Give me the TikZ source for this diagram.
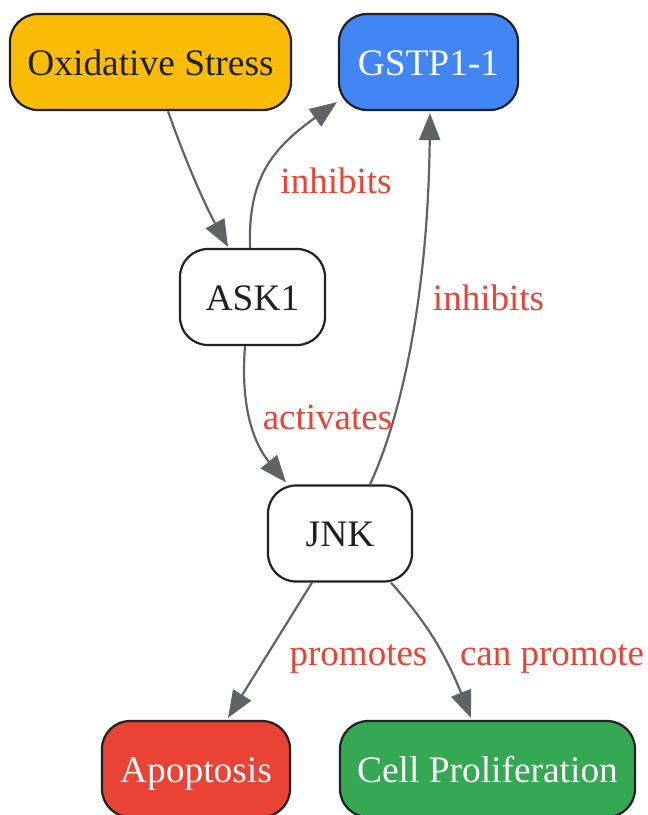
\documentclass[tikz,border=0pt]{standalone}
\usepackage{fontspec}
\setmainfont{Liberation Serif}
\usetikzlibrary{arrows.meta}
\definecolor{cyellow}{HTML}{FBBC05}
\definecolor{cblue}{HTML}{4285F4}
\definecolor{cred}{HTML}{EA4335}
\definecolor{cgreen}{HTML}{34A853}
\definecolor{cborder}{HTML}{202124}
\definecolor{cedge}{HTML}{5F6368}
\definecolor{clabel}{HTML}{EA4335}
\tikzset{
  box/.style={draw=cborder, line width=2.2pt, rounded corners=28pt, inner sep=0pt,
    text height=26pt, text depth=0pt, font=\fontsize{37.4}{44}\selectfont, text=cborder},
  conn/.style={draw=cedge, line width=2.2pt, -{Triangle[length=27pt,width=21pt]}},
  elabel/.style={font=\fontsize{37}{44}\selectfont, text=clabel, anchor=base, inner sep=0pt}
}
\begin{document}
\begin{tikzpicture}[x=1pt,y=-1pt]
\useasboundingbox (0,0) rectangle (648,815);
\node[box, fill=cyellow, minimum width=281pt, minimum height=96pt] (ox) at (150.5,62) {Oxidative Stress};
\node[box, fill=cblue, text=white, minimum width=179pt, minimum height=96pt] (gstp) at (428.5,62) {GSTP1-1};
\node[box, fill=white, minimum width=145pt, minimum height=96pt] (ask) at (252.5,297) {ASK1};
\node[box, fill=white, minimum width=144pt, minimum height=96pt] (jnk) at (340,533.5) {JNK};
\node[box, fill=cred, text=white, minimum width=188pt, minimum height=96pt] (apo) at (196,769) {Apoptosis};
\node[box, fill=cgreen, text=white, minimum width=295pt, minimum height=96pt] (cell) at (487.5,769) {Cell Proliferation};

\draw[conn] ([xshift=17.5pt]ox.south) .. controls (185,160) and (205,205) .. ([xshift=-24.5pt,yshift=1pt]ask.north);
\draw[conn] ([xshift=-2.5pt]ask.north) .. controls (248,180) and (270,150) .. ([xshift=-1pt,yshift=9pt]gstp.south west);
\draw[conn] ([xshift=30pt]jnk.north) .. controls (400,420) and (428,300) .. ([xshift=1.5pt,yshift=-2pt]gstp.south);
\draw[conn] ([xshift=-7.5pt]ask.south) .. controls (240,410) and (255,445) .. ([xshift=-54pt,yshift=2pt]jnk.north);
\draw[conn] ([xshift=-28pt]jnk.south) -- ([xshift=32pt,yshift=2pt]apo.north);
\draw[conn] ([xshift=51pt]jnk.south) .. controls (415,610) and (440,640) .. ([xshift=-16.5pt,yshift=2pt]cell.north);

\node[elabel] (l1) at (336,193) {inhibits};
\node[elabel] (l2) at (488.5,310) {inhibits};
\node[elabel] (l3) at (327.5,429) {activates};
\node[elabel] (l4) at (358.5,665) {promotes};
\node[elabel] (l5) at (552,665) {can promote};
\end{tikzpicture}
\end{document}
